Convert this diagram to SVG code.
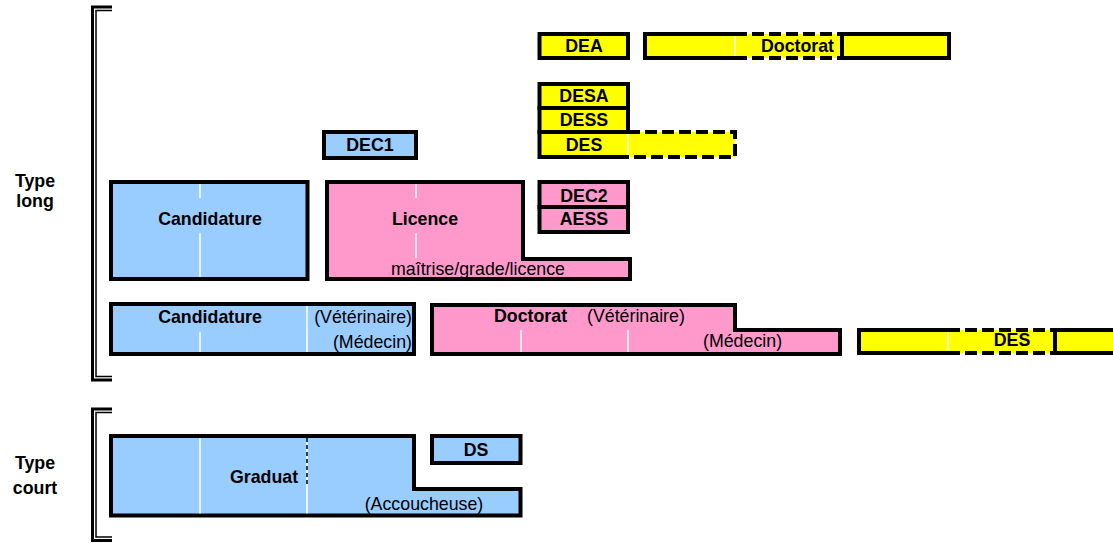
<svg xmlns="http://www.w3.org/2000/svg" width="1113" height="543" viewBox="0 0 1113 543">
<style>
.b{stroke:#000;stroke-width:4;stroke-linejoin:miter}
.s{fill:none;stroke:#000;stroke-width:4;stroke-linejoin:miter}
.d{fill:none;stroke:#000;stroke-width:4;stroke-dasharray:12 5}
.blue{fill:#99CCFF}
.pink{fill:#FF99CC}
.yel{fill:#FFFF00}
.w{stroke:#fff;stroke-width:1.5}
.tb{font-family:"Liberation Sans",Arial,sans-serif;font-weight:bold;font-size:17.8px;fill:#000}
.tr{font-family:"Liberation Sans",Arial,sans-serif;font-size:17.8px;fill:#000}
.m{text-anchor:middle}
.e{text-anchor:end}
.br1{fill:none;stroke:#000;stroke-width:3}
.br2{fill:none;stroke:#000;stroke-width:1.5}
</style>
<rect width="1113" height="543" fill="#fff"/>

<g id="brackets">
  <path class="br1" d="M112,7 H92.5 V380 H112"/>
  <path class="br2" d="M112,10.5 H96 V376.5 H112"/>
  <path class="br1" d="M112,409 H92.5 V540.5 H112"/>
  <path class="br2" d="M112,412.5 H96 V537 H112"/>
</g>

<g id="labels">
  <text class="tb m" x="35" y="187">Type</text>
  <text class="tb m" x="35" y="207">long</text>
  <text class="tb m" x="35" y="469">Type</text>
  <text class="tb m" x="35" y="494">court</text>
</g>

<g id="dea">
  <rect class="b yel" x="539.5" y="34" width="88.5" height="24"/>
  <text class="tb m" x="584" y="52">DEA</text>
</g>

<g id="doctorat-top">
  <rect class="yel" x="645" y="34" width="304" height="24"/>
  <path class="s" d="M735,34 H645 V58 H735"/>
  <path class="d" d="M735,34 H842 M735,58 H842"/>
  <rect class="s" x="842" y="34" width="107" height="24"/>
  <line class="w" x1="735" y1="36" x2="735" y2="56"/>
  <text class="tb m" x="797.5" y="52">Doctorat</text>
</g>

<g id="desa">
  <rect class="b yel" x="539.5" y="84" width="88.5" height="24"/>
  <text class="tb m" x="584" y="102">DESA</text>
</g>
<g id="dess">
  <rect class="b yel" x="539.5" y="108" width="88.5" height="24"/>
  <text class="tb m" x="584" y="126">DESS</text>
</g>
<g id="des-mid">
  <rect class="yel" x="539.5" y="132" width="195.5" height="25"/>
  <path class="s" d="M628,132 H539.5 V157 H628"/>
  <path class="d" d="M628,132 H735 V157 H628"/>
  <line class="w" x1="628" y1="134" x2="628" y2="155"/>
  <text class="tb m" x="584" y="151">DES</text>
</g>

<g id="dec1">
  <rect class="b blue" x="324" y="132" width="92" height="26"/>
  <text class="tb m" x="370" y="151">DEC1</text>
</g>

<g id="candidature-1">
  <rect class="b blue" x="111" y="182" width="196.5" height="97"/>
  <line class="w" x1="200" y1="184" x2="200" y2="198"/>
  <line class="w" x1="200" y1="233" x2="200" y2="277"/>
  <text class="tb m" x="210" y="225">Candidature</text>
</g>

<g id="licence">
  <path class="b pink" d="M327,182 H523 V259 H630 V279 H327 Z"/>
  <line class="w" x1="416" y1="184" x2="416" y2="198"/>
  <line class="w" x1="416" y1="233" x2="416" y2="258"/>
  <text class="tb m" x="425" y="225">Licence</text>
  <text class="tr m" x="478" y="275">maîtrise/grade/licence</text>
</g>

<g id="dec2">
  <rect class="b pink" x="539.5" y="182" width="88.5" height="25"/>
  <text class="tb m" x="584" y="202">DEC2</text>
</g>
<g id="aess">
  <rect class="b pink" x="539.5" y="207" width="88.5" height="25"/>
  <text class="tb m" x="584" y="225">AESS</text>
</g>

<g id="candidature-2">
  <rect class="b blue" x="111" y="304" width="303" height="50"/>
  <line class="w" x1="200" y1="332" x2="200" y2="352"/>
  <line class="w" x1="307" y1="306" x2="307" y2="352"/>
  <text class="tb m" x="210" y="323">Candidature</text>
  <text class="tr e" x="412" y="323">(Vétérinaire)</text>
  <text class="tr e" x="412" y="348">(Médecin)</text>
</g>

<g id="doctorat-2">
  <path class="b pink" d="M432,305 H735 V330 H840 V354 H432 Z"/>
  <line class="w" x1="521" y1="330" x2="521" y2="352"/>
  <line class="w" x1="628" y1="330" x2="628" y2="352"/>
  <text class="tb" x="494" y="322">Doctorat</text>
  <text class="tr" x="587" y="322">(Vétérinaire)</text>
  <text class="tr" x="703" y="347">(Médecin)</text>
</g>

<g id="des-right">
  <rect class="yel" x="859" y="330" width="260" height="23"/>
  <path class="s" d="M948,330 H859 V353 H948"/>
  <path class="d" d="M948,330 H1055 M948,353 H1055"/>
  <path class="s" d="M1120,330 H1055 V353 H1120"/>
  <line class="w" x1="948" y1="332" x2="948" y2="351"/>
  <text class="tb m" x="1012" y="346">DES</text>
</g>

<g id="graduat">
  <path class="b blue" d="M111,436 H414 V489 H520.5 V515.5 H111 Z"/>
  <line class="w" x1="200" y1="438" x2="200" y2="513.5"/>
  <line class="w" x1="307" y1="487" x2="307" y2="513.5"/>
  <line class="w" x1="307" y1="438" x2="307" y2="487"/>
  <line x1="307" y1="438" x2="307" y2="487" stroke="#000" stroke-width="1.5" stroke-dasharray="4 3"/>
  <text class="tb m" x="264" y="483">Graduat</text>
  <text class="tr m" x="424" y="510">(Accoucheuse)</text>
</g>

<g id="ds">
  <rect class="b blue" x="432" y="436" width="88.5" height="27"/>
  <text class="tb m" x="476" y="456">DS</text>
</g>
</svg>
